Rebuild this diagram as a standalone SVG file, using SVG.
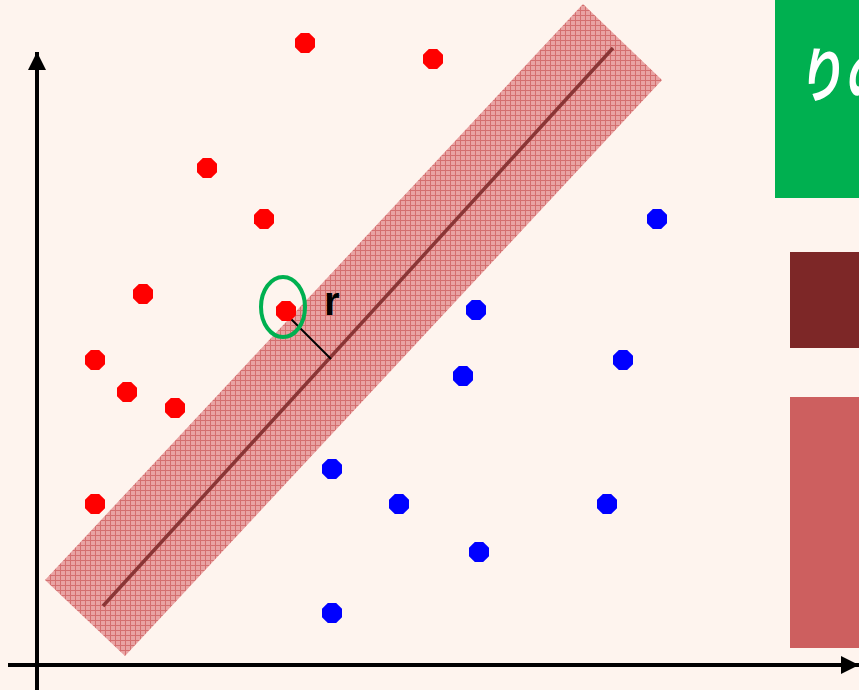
<svg xmlns="http://www.w3.org/2000/svg" xmlns:xlink="http://www.w3.org/1999/xlink" width="859" height="690" viewBox="0 0 859 690">
<style>
.red{fill:#FF0000}
.blue{fill:#0000FF}
.axis{stroke:#000;stroke-width:4;fill:none}
.lbl{font-family:"Liberation Sans",Arial,sans-serif;font-weight:bold;font-size:40px;fill:#000}
.jp{font-family:"Noto Sans CJK JP","Noto Sans",sans-serif;font-weight:bold;font-size:60px;fill:#FFF}
</style>
<defs>
<polygon id="oct" points="4.2,-10 10,-4.2 10,4.2 4.2,10 -4.2,10 -10,4.2 -10,-4.2 -4.2,-10"/>
<pattern id="hatch" width="5" height="5" patternUnits="userSpaceOnUse">
<rect width="5" height="5" fill="#E9A3A3"/>
<rect width="5" height="1" fill="#D46F6F"/>
<rect width="1" height="5" fill="#D46F6F"/>
</pattern>
<marker id="arr" viewBox="0 0 10 10" refX="10" refY="5" markerWidth="4.5" markerHeight="4.5" orient="auto" markerUnits="strokeWidth">
<path d="M0,0 L10,5 L0,10 Z" fill="#000"/>
</marker>
</defs>
<rect width="859" height="690" fill="#FEF4EE"/>
<g id="legend">
<rect x="775" y="0" width="84" height="198" fill="#00B050"/>
<text class="jp" transform="translate(798,97) scale(0.78,1) skewX(-8)" x="0" y="0">りの</text>
<rect x="790" y="252" width="69" height="96" fill="#7D2727"/>
<rect x="790" y="397" width="69" height="251" fill="#CD5F5F"/>
</g>
<g id="margin-band">
<polygon points="583,4 662,80 125,656 45,580" fill="url(#hatch)"/>
<line x1="103" y1="606" x2="613" y2="48" stroke="#8A3636" stroke-width="3.5"/>
</g>
<g id="connectors">
<line class="axis" x1="37" y1="690" x2="37" y2="52" marker-end="url(#arr)"/>
<line class="axis" x1="8" y1="665" x2="859" y2="665" marker-end="url(#arr)"/>
<line x1="290" y1="318" x2="331" y2="359" stroke="#000" stroke-width="2"/>
</g>
<g id="red-points">
<use href="#oct" class="red" x="305" y="43"/>
<use href="#oct" class="red" x="433" y="59"/>
<use href="#oct" class="red" x="207" y="168"/>
<use href="#oct" class="red" x="264" y="219"/>
<use href="#oct" class="red" x="143" y="294"/>
<use href="#oct" class="red" x="286" y="311"/>
<use href="#oct" class="red" x="95" y="360"/>
<use href="#oct" class="red" x="127" y="392"/>
<use href="#oct" class="red" x="175" y="408"/>
<use href="#oct" class="red" x="95" y="504"/>
</g>
<g id="blue-points">
<use href="#oct" class="blue" x="657" y="219"/>
<use href="#oct" class="blue" x="476" y="310"/>
<use href="#oct" class="blue" x="623" y="360"/>
<use href="#oct" class="blue" x="463" y="376"/>
<use href="#oct" class="blue" x="332" y="469"/>
<use href="#oct" class="blue" x="399" y="504"/>
<use href="#oct" class="blue" x="607" y="504"/>
<use href="#oct" class="blue" x="479" y="552"/>
<use href="#oct" class="blue" x="332" y="613"/>
</g>
<g id="support-vector">
<ellipse cx="283" cy="307" rx="22" ry="30" fill="none" stroke="#00B050" stroke-width="4"/>
<text class="lbl" x="324" y="315">r</text>
</g>
</svg>
